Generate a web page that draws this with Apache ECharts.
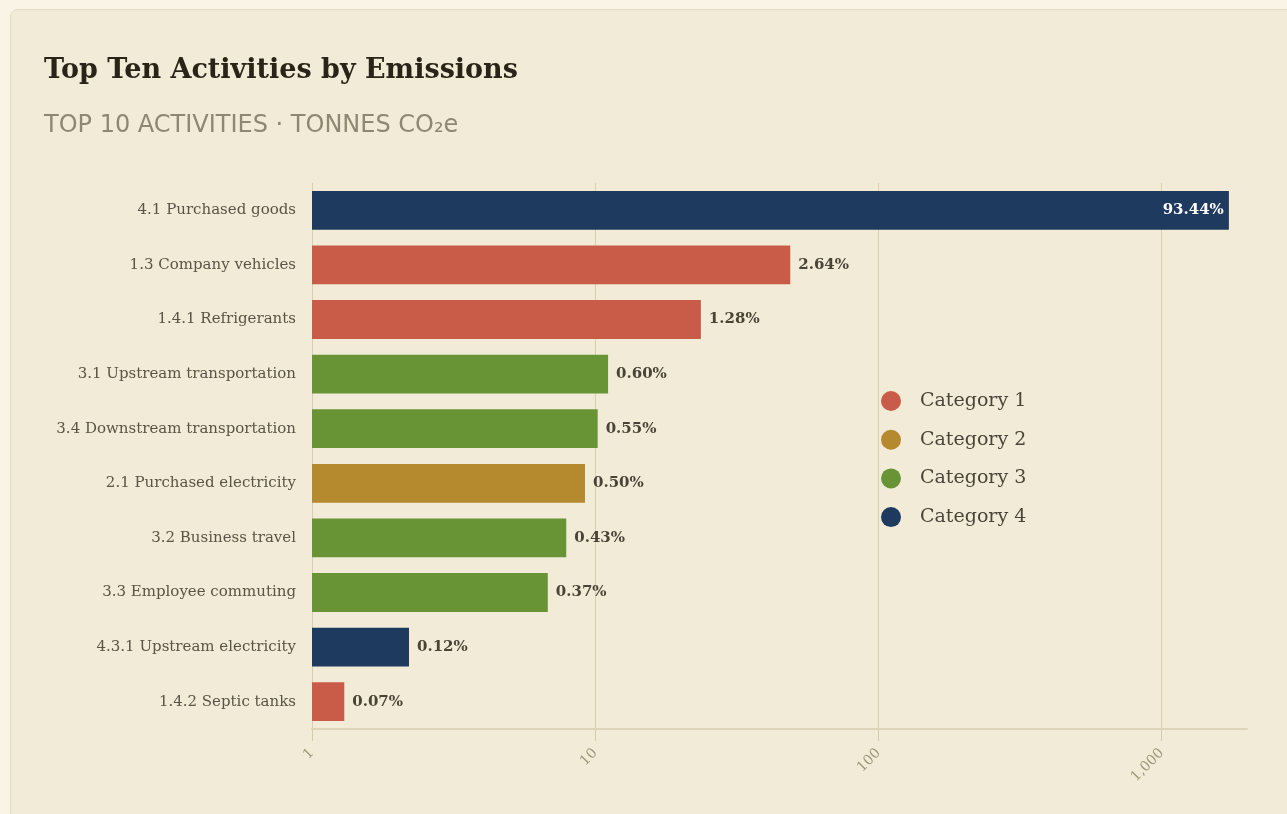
<!DOCTYPE html>
<html>
<head>
<meta charset="utf-8">
<script src="https://cdn.jsdelivr.net/npm/echarts@6/dist/echarts.min.js"></script>
<style>
  html, body { margin: 0; padding: 0; width: 1287px; height: 814px; overflow: hidden; background: #faf4e7; }
  .card { position: absolute; left: 10px; top: 9px; width: 1300px; height: 830px; box-sizing: border-box;
          background: #f2ebd7; border: 1px solid #e4dac0; border-radius: 8px; }
  #chart { position: absolute; left: 0; top: 0; width: 1287px; height: 814px; }
</style>
</head>
<body>
<div class="card"></div>
<div id="chart"></div>
<script>
// Top ten activities, tonnes CO2e, listed from largest to smallest
const activities = [
  '4.1 Purchased goods',
  '1.3 Company vehicles',
  '1.4.1 Refrigerants',
  '3.1 Upstream transportation',
  '3.4 Downstream transportation',
  '2.1 Purchased electricity',
  '3.2 Business travel',
  '3.3 Employee commuting',
  '4.3.1 Upstream electricity',
  '1.4.2 Septic tanks'
];
const emissions = [1726, 48.8, 23.6, 11.1, 10.2, 9.2, 7.9, 6.8, 2.2, 1.3];
// Category number (1-4) of each activity
const activityCategory = [4, 1, 1, 3, 3, 2, 3, 3, 4, 1];
const categoryNames = ['Category 1', 'Category 2', 'Category 3', 'Category 4'];
const categoryColors = ['#c95c48', '#b5892e', '#699436', '#1e3a5e'];
const axisTicks = [1, 10, 100, 1000];
const axisMax = 2000;

const serif = '"DejaVu Serif", "Liberation Serif", serif';
const total = emissions.reduce((a, b) => a + b, 0);
const pct = v => (v / total * 100).toFixed(2) + '%';

const series = categoryNames.map((name, ci) => ({
  name: name,
  type: 'bar',
  barGap: '-100%',
  barCategoryGap: '29%',
  itemStyle: { color: categoryColors[ci] },
  label: {
    show: true,
    position: 'right',
    distance: 8,
    fontFamily: serif,
    fontWeight: 'bold',
    fontSize: 15,
    color: '#4a4436',
    formatter: p => pct(p.value)
  },
  data: emissions.map((v, i) => {
    if (activityCategory[i] !== ci + 1) return '-';
    // the largest bar carries its label inside
    if (i === 0) {
      return { value: v, label: { position: 'insideRight', distance: 5, color: '#ffffff' } };
    }
    return v;
  })
}));

const chart = echarts.init(document.getElementById('chart'), null, { renderer: 'canvas' });
chart.setOption({
  backgroundColor: 'transparent',
  animation: false,
  title: {
    text: 'Top Ten Activities by Emissions',
    subtext: 'TOP 10 ACTIVITIES · TONNES CO₂e',
    left: 39,
    top: 52,
    itemGap: 30,
    textStyle: { fontFamily: serif, fontWeight: 'bold', fontSize: 27, color: '#2a2418' },
    subtextStyle: { fontFamily: '"DejaVu Sans", "Noto Sans", sans-serif', fontSize: 24, color: '#8e8872' }
  },
  legend: {
    orient: 'vertical',
    left: 876,
    top: 386,
    icon: 'circle',
    itemWidth: 20,
    itemHeight: 20,
    itemGap: 18.7,
    data: categoryNames,
    textStyle: { fontFamily: serif, fontSize: 19, color: '#4a4538', padding: [0, 0, 0, 14] }
  },
  grid: { left: 312, right: 40, top: 183, bottom: 85, containLabel: false },
  xAxis: {
    type: 'log',
    logBase: 10,
    min: axisTicks[0],
    max: axisMax,
    axisLine: { show: true, lineStyle: { color: '#ddd4bb', width: 2 } },
    axisTick: { show: true, length: 12, customValues: axisTicks, lineStyle: { color: '#d6cbaa' } },
    splitLine: { show: true, lineStyle: { color: '#d9cfb0', width: 1 } },
    axisLabel: {
      rotate: 45,
      margin: 22,
      customValues: axisTicks,
      fontFamily: serif,
      fontSize: 14,
      color: '#9e977c',
      formatter: v => Number(v).toLocaleString('en-US')
    }
  },
  yAxis: {
    type: 'category',
    inverse: true,
    data: activities,
    axisLine: { show: false },
    axisTick: { show: false },
    axisLabel: { margin: 16, fontFamily: serif, fontSize: 15, color: '#5a5446' }
  },
  series: series
});
</script>
</body>
</html>
